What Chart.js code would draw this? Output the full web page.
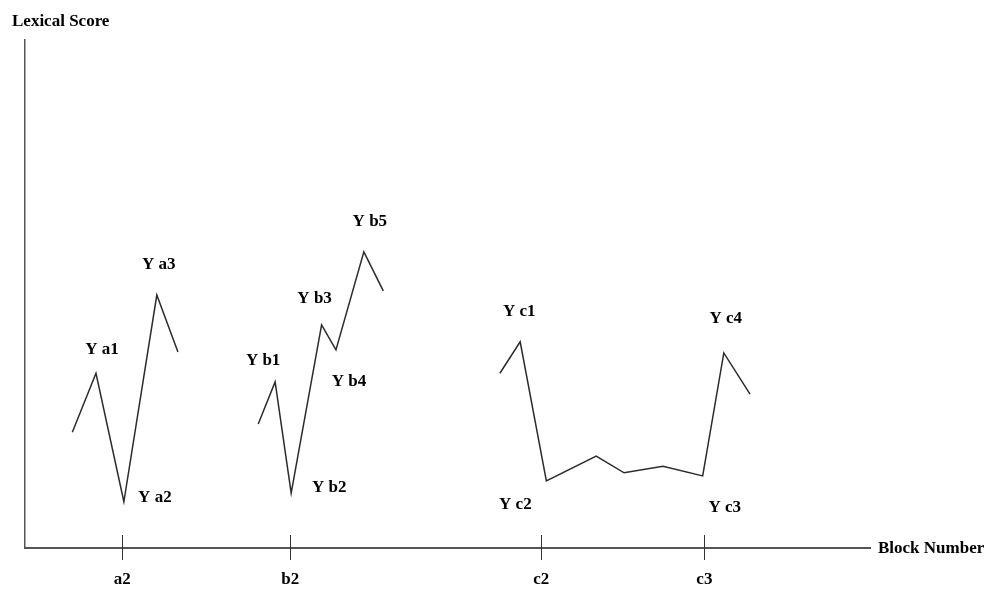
<!DOCTYPE html>
<html>
<head>
<meta charset="utf-8">
<script src="https://cdn.jsdelivr.net/npm/chart.js@4.4.0/dist/chart.umd.min.js"></script>
<style>
    html, body { margin: 0; padding: 0; background: #fff; }
    #contenedor { width: 988px; height: 590px; }
</style>
</head>
<body>
<div id="contenedor"><canvas id="graficoLexical"></canvas></div>
<script>
//Datos (x = bloque, y = puntaje lexico, escala 0-100)
const bloquesA = [5.6, 8.4, 11.7, 15.6, 18.1];
const puntajeA = [22.8, 34.4, 9.1, 49.8, 38.6];
const nombresA = ['', 'Y a1', 'Y a2', 'Y a3', ''];

const bloquesB = [27.6, 29.6, 31.5, 35.1, 36.8, 40.1, 42.4];
const puntajeB = [24.4, 32.7, 10.8, 43.9, 39.0, 58.3, 50.6];
const nombresB = ['', 'Y b1', 'Y b2', 'Y b3', 'Y b4', 'Y b5', ''];

const bloquesC = [56.2, 58.6, 61.7, 67.6, 70.9, 75.5, 80.2, 82.7, 85.8];
const puntajeC = [34.4, 40.6, 13.2, 18.1, 14.8, 16.1, 14.2, 38.4, 30.3];
const nombresC = ['', 'Y c1', 'Y c2', '', '', '', 'Y c3', 'Y c4', ''];

//Marcas del eje x
const marcasX = [11.5, 31.4, 61.1, 80.4];
const etiquetasX = ['a2', 'b2', 'c2', 'c3'];

//Desplazamiento de cada etiqueta respecto a su punto (px)
const desplazamientos = {
    'Y a1': [6, -24], 'Y a2': [31, -4], 'Y a3': [2, -30],
    'Y b1': [-12, -21], 'Y b2': [38, -6], 'Y b3': [-7, -26], 'Y b4': [13, 32], 'Y b5': [6, -30],
    'Y c1': [-1, -30], 'Y c2': [-31, 24], 'Y c3': [22, 32], 'Y c4': [2, -34]
};

const series = [
    { x: bloquesA, y: puntajeA, nombres: nombresA },
    { x: bloquesB, y: puntajeB, nombres: nombresB },
    { x: bloquesC, y: puntajeC, nombres: nombresC }
];

const fuente = '"Liberation Serif", "Times New Roman", serif';

//Plugin para etiquetas de puntos, marcas cruzadas y titulos de ejes
const etiquetasPlugin = {
    id: 'etiquetas',
    afterDatasetsDraw(chart) {
        const ctx = chart.ctx;
        const escalaX = chart.scales.x;
        const escalaY = chart.scales.y;
        const abajo = chart.chartArea.bottom;
        ctx.save();
        ctx.strokeStyle = '#333';
        ctx.lineWidth = 1;
        escalaX.ticks.forEach(t => {
            const px = Math.round(escalaX.getPixelForValue(t.value)) + 0.5;
            ctx.beginPath();
            ctx.moveTo(px, abajo - 13);
            ctx.lineTo(px, abajo + 12);
            ctx.stroke();
        });
        ctx.font = 'bold 17px ' + fuente;
        ctx.fillStyle = '#000';
        ctx.textAlign = 'center';
        ctx.textBaseline = 'middle';
        series.forEach(s => {
            s.nombres.forEach((n, i) => {
                if (!n) return;
                const d = desplazamientos[n];
                ctx.fillText(n, escalaX.getPixelForValue(s.x[i]) + d[0], escalaY.getPixelForValue(s.y[i]) + d[1]);
            });
        });
        ctx.textAlign = 'left';
        ctx.fillText('Lexical Score', 12, 22);
        ctx.fillText('Block Number', 878, abajo + 1);
        ctx.restore();
    }
};

const ctx = document.getElementById('graficoLexical').getContext('2d');
new Chart(ctx, {
    type: 'line',
    data: {
        datasets: series.map(s => ({
            data: s.x.map((v, i) => ({ x: v, y: s.y[i] })),
            borderColor: '#2b2b2b',
            borderWidth: 1.5,
            pointRadius: 0,
            fill: false,
            tension: 0
        }))
    },
    options: {
        responsive: true,
        maintainAspectRatio: false,
        animation: false,
        layout: { padding: { left: 25, top: 40, right: 118, bottom: 0 } },
        plugins: { legend: { display: false }, tooltip: { enabled: false } },
        scales: {
            x: {
                type: 'linear',
                min: 0,
                max: 100,
                grid: { display: false, drawTicks: false },
                border: { display: true, color: '#555', width: 2 },
                afterBuildTicks: scale => { scale.ticks = marcasX.map(v => ({ value: v })); },
                afterFit: scale => { scale.height = 42; },
                ticks: {
                    autoSkip: false,
                    maxRotation: 0,
                    padding: 21,
                    color: '#000',
                    font: { family: fuente, size: 17, weight: 'bold' },
                    callback: (value, index) => etiquetasX[index]
                }
            },
            y: {
                min: 0,
                max: 100,
                grid: { display: false, drawTicks: false },
                border: { display: true, color: '#555', width: 1.5 },
                ticks: { display: false },
                afterFit: scale => { scale.width = 0; }
            }
        }
    },
    plugins: [etiquetasPlugin]
});
</script>
</body>
</html>
